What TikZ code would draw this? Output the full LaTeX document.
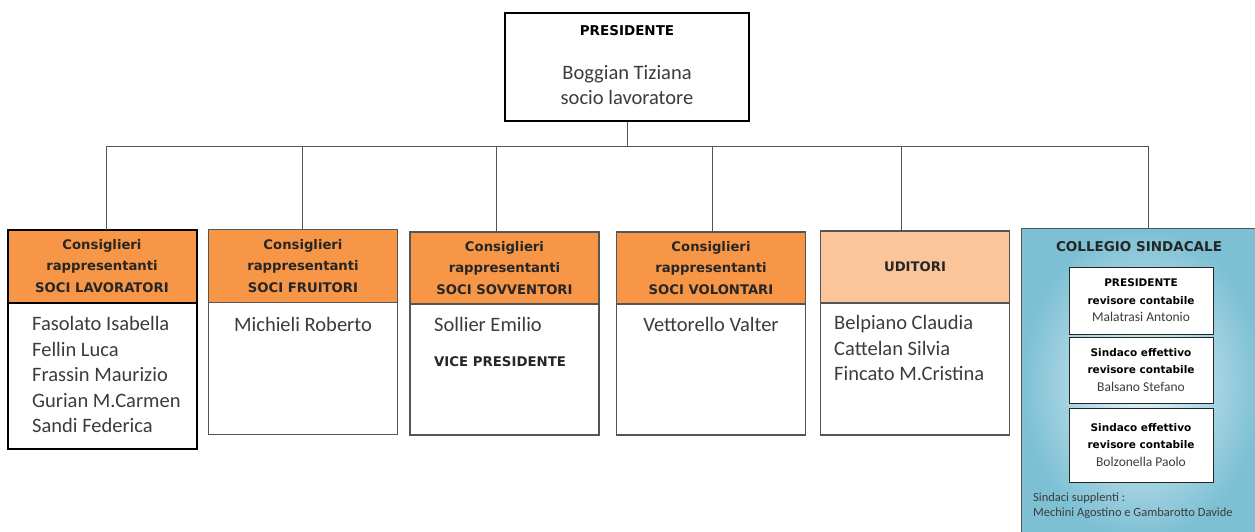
\documentclass[tikz,border=0pt]{standalone}
\usepackage{fontspec}
\setmainfont{Carlito}
\newfontfamily\hdfont{DejaVu Sans}
\usetikzlibrary{positioning}
\usepackage{xcolor}

\definecolor{consorange}{RGB}{247,150,70}
\definecolor{uditpeach}{RGB}{250,197,155}
\definecolor{linegray}{RGB}{85,85,85}
\definecolor{namegray}{RGB}{60,60,60}
\definecolor{collight}{RGB}{230,243,248}
\definecolor{coldark}{RGB}{125,192,212}

\newcommand{\sindname}[1]{{\normalfont\fontsize{13.5}{17.5}\selectfont\color{namegray}#1}}

\begin{document}
\begin{tikzpicture}[
    x=1pt, y=-1pt,
    hdr/.style={rectangle, draw=linegray, line width=1.2pt, fill=consorange, minimum width=189, minimum height=73, inner sep=0, outer sep=0, align=center, text=black!85, font=\hdfont\bfseries\fontsize{13.2}{21.5}\selectfont},
    cons/.style={hdr, execute at begin node={\rule{0pt}{16pt}}},
    body/.style={rectangle, draw=linegray, line width=1.2pt, fill=white, minimum width=189, inner sep=0, outer sep=0},
    names/.style={inner sep=0, align=left, text=namegray, font=\fontsize{20.5}{25.5}\selectfont},
    sind/.style={rectangle, draw=black!85, line width=1pt, fill=white, minimum width=144, inner sep=0, align=center, font=\hdfont\bfseries\fontsize{10.5}{17.5}\selectfont},
    link/.style={draw=linegray, line width=0.9pt}
]
    \useasboundingbox (0,0) rectangle (1255,532);
    \fill[white] (0,0) rectangle (1255,532);
    \clip (0,0) rectangle (1255,532);

    % presidente
    \node[rectangle, draw=black, line width=2pt, minimum width=244, minimum height=108] (pres) at (627,67) {};
    \node[font=\hdfont\bfseries\fontsize{13.5}{16}\selectfont] (presT) at (627,31) {PRESIDENTE};
    \node[names, align=center] (presN) at (627,85) {Boggian Tiziana\\socio lavoratore};

    % consiglieri
    \node[cons, draw=black, line width=2pt] (hLav) at (102,266) {Consiglieri\\rappresentanti\\SOCI LAVORATORI};
    \node[body, draw=black, line width=2pt, minimum height=146, below=0pt of hLav] (bLav) {};
    \node[cons] (hFru) at (303,266) {Consiglieri\\rappresentanti\\SOCI FRUITORI};
    \node[body, minimum height=132, below=0pt of hFru] (bFru) {};
    \node[cons, minimum height=72] (hSov) at (504.5,268) {Consiglieri\\rappresentanti\\SOCI SOVVENTORI};
    \node[body, minimum height=131, below=0pt of hSov] (bSov) {};
    \node[cons, minimum height=72] (hVol) at (711,268) {Consiglieri\\rappresentanti\\SOCI VOLONTARI};
    \node[body, minimum height=131, below=0pt of hVol] (bVol) {};
    \node[hdr, fill=uditpeach, minimum height=72] (hUdi) at (915,267) {UDITORI};
    \node[body, minimum height=132, below=0pt of hUdi] (bUdi) {};

    % nomi
    \node[names, anchor=north west] (nLav) at (32,316.5) {Fasolato Isabella\\Fellin Luca\\Frassin Maurizio\\Gurian M.Carmen\\Sandi Federica};
    \node[names, anchor=base] (nFru) at (303,331) {Michieli Roberto};
    \node[names, anchor=base west] (nSov) at (434,331) {Sollier Emilio};
    \node[anchor=base west, inner sep=0, text=black!85, font=\hdfont\bfseries\fontsize{13.3}{15}\selectfont] (vice) at (434,366) {VICE PRESIDENTE};
    \node[names, anchor=base] (nVol) at (711,331) {Vettorello Valter};
    \node[names, anchor=north west] (nUdi) at (834,315.5) {Belpiano Claudia\\Cattelan Silvia\\Fincato M.Cristina};

    % collegio sindacale
    \node[rectangle, draw=linegray, line width=1.2pt, inner color=collight, outer color=coldark, anchor=north west, minimum width=240, minimum height=310] (coll) at (1021,228) {};
    \node[font=\hdfont\bfseries\fontsize{13.5}{16}\selectfont, text=black!85] (collT) at (1139,247) {COLLEGIO SINDACALE};
    \node[sind, minimum height=67] (sPres) at (1141,300.5) {PRESIDENTE\\revisore contabile\\\sindname{Malatrasi Antonio}};
    \node[sind, minimum height=66] (sEff1) at (1141,370) {Sindaco effettivo\\revisore contabile\\\sindname{Balsano Stefano}};
    \node[sind, minimum height=74] (sEff2) at (1141,445) {Sindaco effettivo\\revisore contabile\\\sindname{Bolzonella Paolo}};
    \node[anchor=north west, inner sep=0, align=left, text=namegray, font=\fontsize{12.5}{15}\selectfont] (supp) at (1033,493) {Sindaci supplenti :\\Mechini Agostino e Gambarotto Davide};

    % collegamenti
    \coordinate (bar) at (627,146);
    \coordinate (cLav) at (106,146);
    \coordinate (cFru) at (302,146);
    \coordinate (cSov) at (496,146);
    \coordinate (cVol) at (712,146);
    \coordinate (cUdi) at (901,146);
    \coordinate (cCol) at (1148,146);
    \draw[link] (pres.south) -- (bar);
    \draw[link] (cLav) -- (cCol);
    \draw[link] (cLav) -- (cLav |- hLav.north);
    \draw[link] (cFru) -- (cFru |- hFru.north);
    \draw[link] (cSov) -- (cSov |- hSov.north);
    \draw[link] (cVol) -- (cVol |- hVol.north);
    \draw[link] (cUdi) -- (cUdi |- hUdi.north);
    \draw[link] (cCol) -- (cCol |- coll.north);
\end{tikzpicture}
\end{document}
